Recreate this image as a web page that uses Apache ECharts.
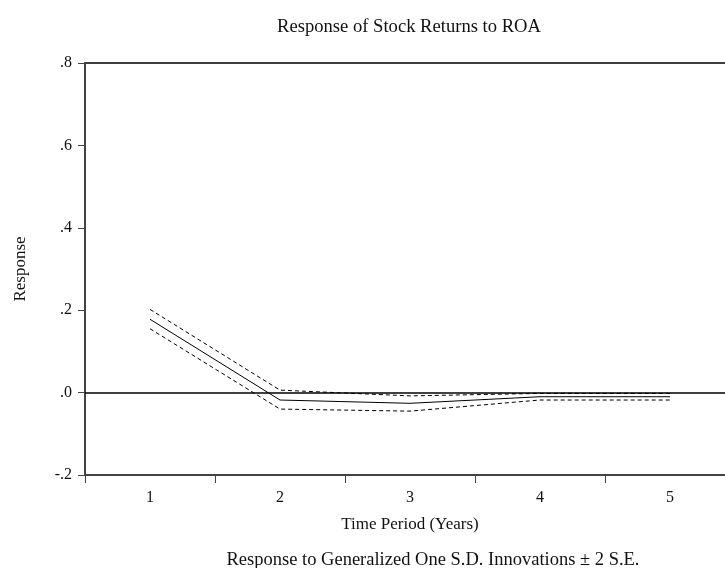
<!DOCTYPE html>
<html>
<head>
<meta charset="utf-8">
<script src="https://cdn.jsdelivr.net/npm/echarts@6/dist/echarts.min.js"></script>
<style>
html,body{margin:0;padding:0;background:#fff;overflow:hidden;width:725px;height:568px;}
#chart{width:745px;height:568px;}
</style>
</head>
<body>
<div id="chart"></div>
<script>
var periods = ['1', '2', '3', '4', '5'];
var response = [0.178, -0.018, -0.026, -0.010, -0.010];
var upperBand = [0.202, 0.006, -0.008, -0.002, -0.002];
var lowerBand = [0.155, -0.040, -0.045, -0.018, -0.018];
var titleText = 'Response of Stock Returns to ROA';
var subText = 'Response to Generalized One S.D. Innovations \u00B1 2 S.E.';
var xName = 'Time Period (Years)';
var yName = 'Response';

var FONT = '"Liberation Serif", "Times New Roman", serif';
var chart = echarts.init(document.getElementById('chart'), null, {renderer: 'canvas'});

function fmt(v) {
  var s = v.toFixed(1);
  return s.replace('0.', '.');
}

var option = {
  backgroundColor: '#fff',
  animation: false,
  title: [
    {text: titleText, left: 404, top: 13, textAlign: 'center',
     textStyle: {fontFamily: FONT, fontSize: 18.6, fontWeight: 'normal', color: '#111'}},
    {text: subText, left: 428, top: 546, textAlign: 'center',
     textStyle: {fontFamily: FONT, fontSize: 18.5, fontWeight: 'normal', color: '#111'}}
  ],
  grid: {left: 85, top: 63, width: 650, bottom: 93, show: true, borderColor: '#000', borderWidth: 1.5, backgroundColor: 'transparent'},
  xAxis: {
    type: 'category',
    data: periods,
    boundaryGap: true,
    name: xName,
    nameLocation: 'middle',
    nameGap: 41,
    nameTextStyle: {fontFamily: FONT, fontSize: 17, color: '#111', verticalAlign: 'top'},
    axisLine: {onZero: false, lineStyle: {color: '#444', width: 2}},
    axisTick: {show: true, length: 8, lineStyle: {color: '#444', width: 1}},
    axisLabel: {fontFamily: FONT, fontSize: 16, color: '#111', margin: 15},
    splitLine: {show: false}
  },
  yAxis: {
    type: 'value',
    min: -0.2,
    max: 0.8,
    interval: 0.2,
    name: yName,
    nameLocation: 'middle',
    nameGap: 56,
    nameRotate: 90,
    nameTextStyle: {fontFamily: FONT, fontSize: 17, color: '#111'},
    axisLine: {show: true, lineStyle: {color: '#444', width: 2}},
    axisTick: {show: true, length: 7, lineStyle: {color: '#444', width: 1}},
    axisLabel: {fontFamily: FONT, fontSize: 16, color: '#111', margin: 13, formatter: fmt},
    splitLine: {show: false}
  },
  series: [
    {
      name: 'Response', type: 'line', data: response, symbol: 'none',
      lineStyle: {color: '#000', width: 1}, z: 3,
      markLine: {
        silent: true, symbol: 'none', label: {show: false},
        lineStyle: {color: '#000', width: 1.5, type: 'solid'},
        data: [{yAxis: 0}]
      }
    },
    {
      name: 'Upper', type: 'line', data: upperBand, symbol: 'none',
      lineStyle: {color: '#000', width: 1, type: [4, 3]}, z: 3
    },
    {
      name: 'Lower', type: 'line', data: lowerBand, symbol: 'none',
      lineStyle: {color: '#000', width: 1, type: [4, 3]}, z: 3
    }
  ]
};
chart.setOption(option);
</script>
</body>
</html>
